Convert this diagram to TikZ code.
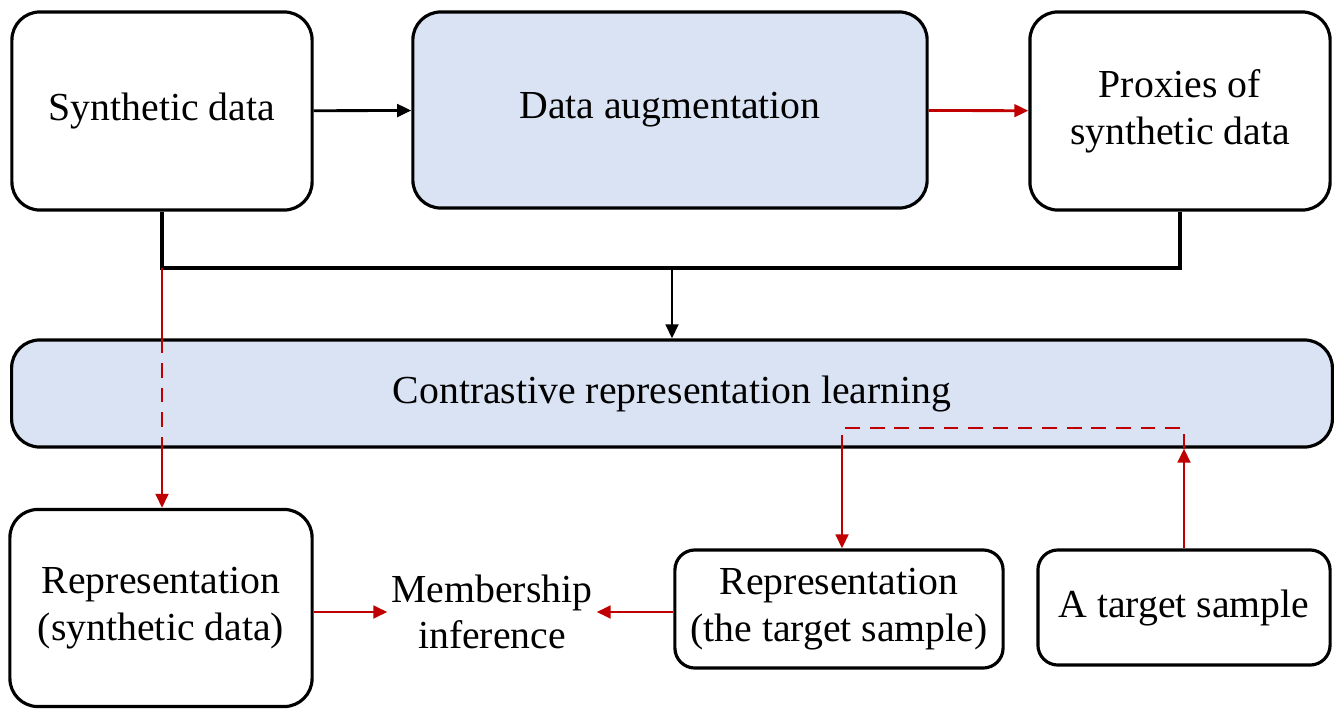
\documentclass[tikz,border=0pt]{standalone}
\usepackage{fontspec}
\setmainfont{Liberation Serif}
\definecolor{FlowBlue}{HTML}{DAE3F3}
\definecolor{FlowRed}{HTML}{C00000}
\definecolor{FlowDark}{HTML}{000000}
\usetikzlibrary{arrows.meta,positioning}
\tikzset{
  box/.style={draw=FlowDark, rounded corners=0.28cm, align=center, line width=0.9pt, fill=white, inner sep=0pt},
  procbox/.style={box, fill=FlowBlue},
  smallbox/.style={box, rounded corners=0.2cm},
  arrow/.style={-{Triangle[length=4pt,width=3.6pt]}, line width=0.8pt, FlowDark},
  redarrow/.style={-{Triangle[length=4pt,width=3.6pt]}, line width=0.8pt, FlowRed},
  redline/.style={line width=0.8pt, FlowRed},
  reddash/.style={line width=0.8pt, FlowRed, dash pattern=on 4.2pt off 2.8pt}
}

\begin{document}
\begin{tikzpicture}[x=0.01cm, y=-0.01cm, every node/.style={font=\fontsize{11.3}{13.3}\selectfont}]
    \useasboundingbox (0,0) rectangle (1342,709);
    \node[box, minimum width=3cm, minimum height=1.98cm] (syn) at (162,111) {Synthetic data};
    \node[procbox, minimum width=5.14cm, minimum height=1.96cm] (aug) at (670,110) {Data augmentation};
    \node[box, minimum width=3cm, minimum height=1.98cm] (proxy) at (1180,111) {Proxies of\\synthetic data};
    \node[procbox, minimum width=13.2cm, minimum height=1.07cm] (clr) at (672,393.5) {Contrastive representation learning};
    \node[box, minimum width=3.02cm, minimum height=1.97cm] (repsyn) at (161,608) {Representation\\(synthetic data)};
    \node[align=center, inner sep=1pt] (mi) at (492,612) {Membership\\inference};
    \node[smallbox, minimum width=3.28cm, minimum height=1.18cm] (reptgt) at (839,609) {Representation\\(the target sample)};
    \node[smallbox, minimum width=2.92cm, minimum height=1.15cm] (tgt) at (1184,607.5) {A target sample};
    \coordinate (jl) at (162,268);
    \coordinate (jm) at (672,268);
    \coordinate (jr) at (proxy.south |- jl);
    \coordinate (dl) at (842,428);
    \coordinate (dr) at (tgt.north |- dl);
    \draw[arrow] (syn) -- (aug);
    \draw[redarrow] (aug) -- (proxy);
    \draw[line width=0.9pt] (syn.south) -- (jl) -- (jr) -- (proxy.south);
    \draw[arrow] (jm) -- (clr.north -| jm);
    \draw[redline] (jl) -- (jl |- clr.north);
    \draw[reddash] (jl |- clr.north) -- (jl |- clr.south);
    \draw[redarrow] (jl |- clr.south) -- (jl |- repsyn.north);
    \draw[redarrow] (tgt.north) -- (tgt.north |- clr.south);
    \draw[reddash] (tgt.north |- clr.south) -- (dr) -- (dl) -- (dl |- clr.south);
    \draw[redarrow] (dl |- clr.south) -- (dl |- reptgt.north);
    \draw[redarrow] (repsyn.east |- mi) -- (mi.west);
    \draw[redarrow] (reptgt.west |- mi) -- (mi.east);
  \end{tikzpicture}
\end{document}
